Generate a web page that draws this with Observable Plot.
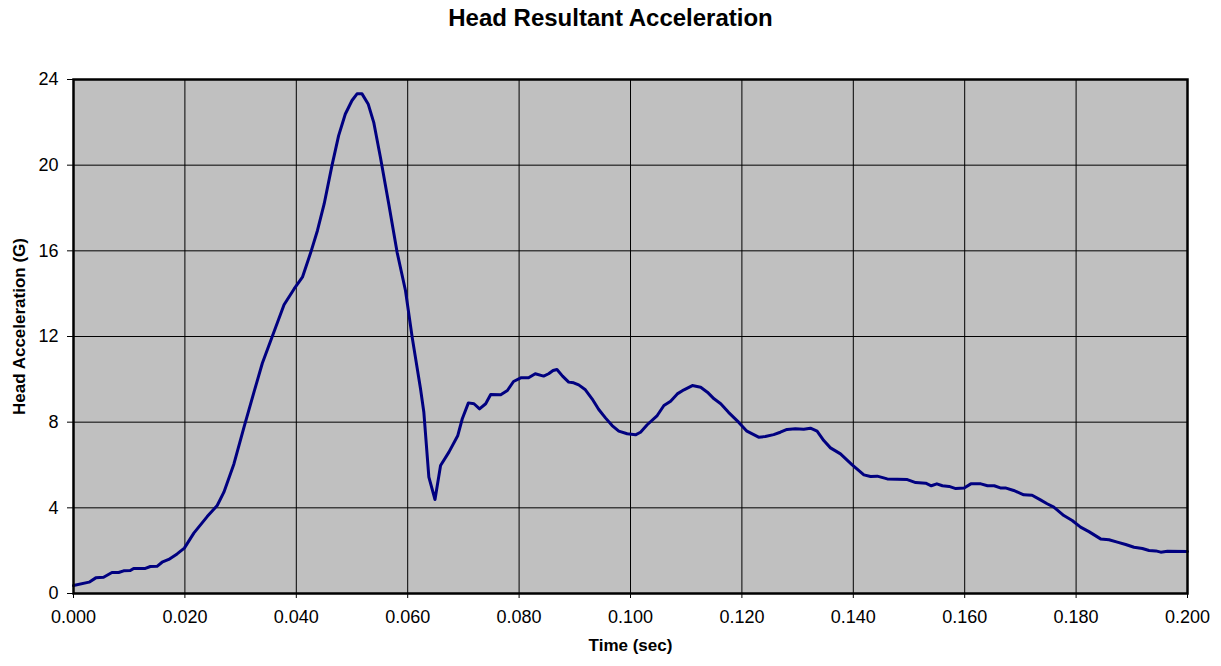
<!DOCTYPE html>
<html><head><meta charset="utf-8">
<script src="https://cdn.jsdelivr.net/npm/d3@7"></script>
<script src="https://cdn.jsdelivr.net/npm/@observablehq/plot@0.6"></script>
<style>
html,body{margin:0;padding:0;background:#fff;overflow:hidden;font-family:Arial,"Liberation Sans",sans-serif;}
#title{height:34px;line-height:36px;text-align:center;font-weight:bold;font-size:24px;color:#000;}
#chart svg{display:block;}
</style></head><body>
<div id="title">Head Resultant Acceleration</div>
<div id="chart"></div>
<script>
const timeSec = [0.000,0.0028,0.0040,0.0054,0.0069,0.0081,0.0090,0.0102,0.0108,0.0129,0.0138,0.0150,0.0159,0.0171,0.0186,0.0199,0.0216,0.0240,0.0258,0.0270,0.0288,0.0306,0.0324,0.0339,0.0378,0.0396,0.0411,0.0426,0.0438,0.0450,0.0464,0.0476,0.0488,0.0500,0.0509,0.0518,0.0529,0.0539,0.0551,0.0566,0.0581,0.0596,0.0608,0.0623,0.0629,0.0638,0.0649,0.0659,0.0674,0.0690,0.0698,0.0709,0.0719,0.0729,0.0740,0.0749,0.0767,0.0779,0.0790,0.0803,0.0817,0.0829,0.0844,0.0853,0.0861,0.0868,0.0878,0.0889,0.0898,0.0907,0.0919,0.0931,0.0943,0.0955,0.0967,0.0979,0.0994,0.1009,0.1018,0.1030,0.1048,0.1060,0.1072,0.1084,0.1096,0.1111,0.1126,0.1138,0.1150,0.1162,0.1176,0.1194,0.1209,0.1230,0.1242,0.1257,0.1269,0.1281,0.1296,0.1311,0.1323,0.1335,0.1347,0.1359,0.1377,0.1398,0.1419,0.1431,0.1443,0.1461,0.1497,0.1512,0.1530,0.1540,0.1550,0.1560,0.1572,0.1584,0.1599,0.1611,0.1629,0.1641,0.1653,0.1664,0.1673,0.1688,0.1706,0.1721,0.1736,0.1748,0.1760,0.1778,0.1793,0.1808,0.1823,0.1844,0.1859,0.1874,0.1889,0.1904,0.1919,0.1931,0.1943,0.1952,0.1964,0.2000];
const headAccelG = [0.37,0.53,0.73,0.76,0.98,0.98,1.06,1.07,1.17,1.17,1.26,1.27,1.46,1.59,1.85,2.12,2.82,3.59,4.11,4.73,6.05,7.76,9.40,10.75,13.48,14.22,14.77,15.93,16.95,18.19,19.98,21.38,22.39,23.02,23.33,23.33,22.86,22.00,20.37,18.19,15.93,14.15,11.97,9.56,8.46,5.43,4.39,5.98,6.60,7.38,8.16,8.90,8.86,8.62,8.86,9.29,9.28,9.48,9.90,10.07,10.07,10.26,10.15,10.26,10.41,10.46,10.15,9.87,9.84,9.74,9.51,9.09,8.59,8.20,7.84,7.58,7.46,7.41,7.53,7.88,8.31,8.78,8.98,9.32,9.51,9.71,9.63,9.40,9.09,8.86,8.46,8.00,7.58,7.30,7.33,7.42,7.53,7.66,7.69,7.67,7.72,7.58,7.14,6.80,6.52,6.01,5.54,5.46,5.48,5.35,5.32,5.18,5.15,5.03,5.12,5.03,5.00,4.90,4.93,5.12,5.12,5.03,5.03,4.93,4.93,4.81,4.61,4.59,4.37,4.19,4.03,3.64,3.41,3.10,2.89,2.55,2.51,2.40,2.29,2.16,2.10,2.01,1.99,1.93,1.97,1.96];
const xTicks = [0, 0.02, 0.04, 0.06, 0.08, 0.10, 0.12, 0.14, 0.16, 0.18, 0.20];
const yTicks = [0, 4, 8, 12, 16, 20, 24];
const xLabel = "Time (sec)";
const yLabel = "Head Acceleration (G)";

const data = timeSec.map((t, i) => ({t, g: headAccelG[i]}));

const chart = Plot.plot({
  width: 1221, height: 632,
  marginTop: 45, marginBottom: 73, marginLeft: 73, marginRight: 34,
  style: {fontFamily: 'Arial,"Liberation Sans",sans-serif', fontSize: "18px", background: "white", color: "#000"},
  x: {domain: [0, 0.2]},
  y: {domain: [0, 24]},
  marks: [
    Plot.frame({fill: "#C0C0C0"}),
    Plot.gridX(xTicks, {stroke: "#000", strokeOpacity: 1, strokeWidth: 1}),
    Plot.gridY(yTicks, {stroke: "#000", strokeOpacity: 1, strokeWidth: 1}),
    Plot.axisX(xTicks, {tickFormat: d3.format(".3f"), tickSize: 5, tickPadding: 12, label: null, fontSize: 18, stroke: "#000"}),
    Plot.axisY(yTicks, {tickSize: 6, tickPadding: 9, label: null, fontSize: 18, stroke: "#000"}),
    Plot.line(data, {x: "t", y: "g", stroke: "#000080", strokeWidth: 3, strokeLinejoin: "round"}),
    Plot.frame({stroke: "#000", strokeWidth: 2.5}),
    Plot.text([xLabel], {text: d => d, frameAnchor: "bottom", dy: 57, fontWeight: "bold", fontSize: 17}),
    Plot.text([yLabel], {text: d => d, frameAnchor: "left", textAnchor: "middle", dx: -54, dy: -10, rotate: -90, fontWeight: "bold", fontSize: 17})
  ]
});
document.getElementById("chart").appendChild(chart);
</script>
</body></html>
